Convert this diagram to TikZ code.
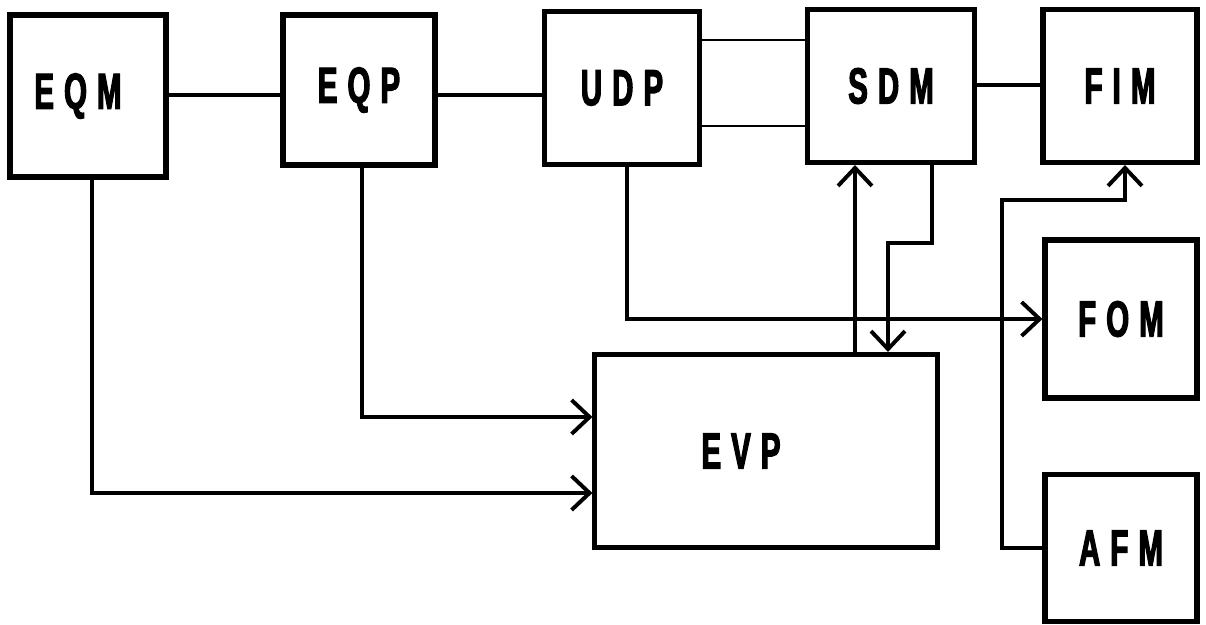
\documentclass[tikz,border=0pt]{standalone}
\usepackage{fontspec}
\usepackage{tikz}
\usetikzlibrary{arrows.meta}
\newfontfamily\blockfont[FakeStretch=0.58,FakeBold=2.4,LetterSpace=20]{Liberation Sans}

\begin{document}
\begin{tikzpicture}[
  x=0.025cm,y=-0.025cm,
  every node/.style={font=\blockfont\bfseries\fontsize{36}{36}\selectfont},
  block/.style={draw,line width=3.6pt,minimum width=#1,inner sep=0pt},
  wire/.style={line width=2.8pt},
  thinwire/.style={line width=2pt},
  arrow/.style={wire,-{Straight Barb[length=4.5mm,width=8.5mm,line width=2.8pt]}}
]
  \useasboundingbox (0,0) rectangle (1206,625);

  \node[block=3.9cm,minimum height=4.05cm]   (EQM) at (88,96)   {EQM\kern0.5cm};
  \node[block=3.8cm,minimum height=3.75cm]   (EQP) at (359,90)  {EQP};
  \node[block=3.875cm,minimum height=3.825cm] (UDP) at (622,88) {UDP};
  \node[block=4.175cm,minimum height=3.825cm] (SDM) at (891,86) {SDM};
  \node[block=3.85cm,minimum height=3.825cm] (FIM) at (1120,86) {FIM};
  \node[block=3.8cm,minimum height=3.95cm]   (FOM) at (1121,319) {FOM};
  \node[block=3.8cm,minimum height=3.675cm]  (AFM) at (1121,548) {AFM};
  \node[block=8.55cm,minimum height=4.825cm] (EVP) at (766,451) {EVP\kern1.25cm};

  % top row
  \draw[wire] (EQM.east |- 0,95) -- (EQP.west |- 0,95);
  \draw[wire] (EQP.east |- 0,95) -- (UDP.west |- 0,95);
  \draw[thinwire] (UDP.east |- 0,40) -- (SDM.west |- 0,40);
  \draw[thinwire] (UDP.east |- 0,126) -- (SDM.west |- 0,126);
  \draw[wire] (SDM.east |- 0,85) -- (FIM.west |- 0,85);

  % feeds into EVP
  \draw[arrow] (EQM.south -| 92,0) |- (EVP.west |- 0,493);
  \draw[arrow] (EQP.south -| 362,0) |- (EVP.west |- 0,417);
  \draw[arrow] (UDP.south -| 627,0) |- (FOM.west);

  \draw[arrow] (EVP.north -| 855,0) -- (SDM.south -| 855,0);
  \draw[arrow] (SDM.south -| 932,0) |- (888,243) -- (EVP.north -| 888,0);

  \draw[arrow] (AFM.west) -| (1002,200) -| (FIM.south -| 1125,0);
\end{tikzpicture}
\end{document}
